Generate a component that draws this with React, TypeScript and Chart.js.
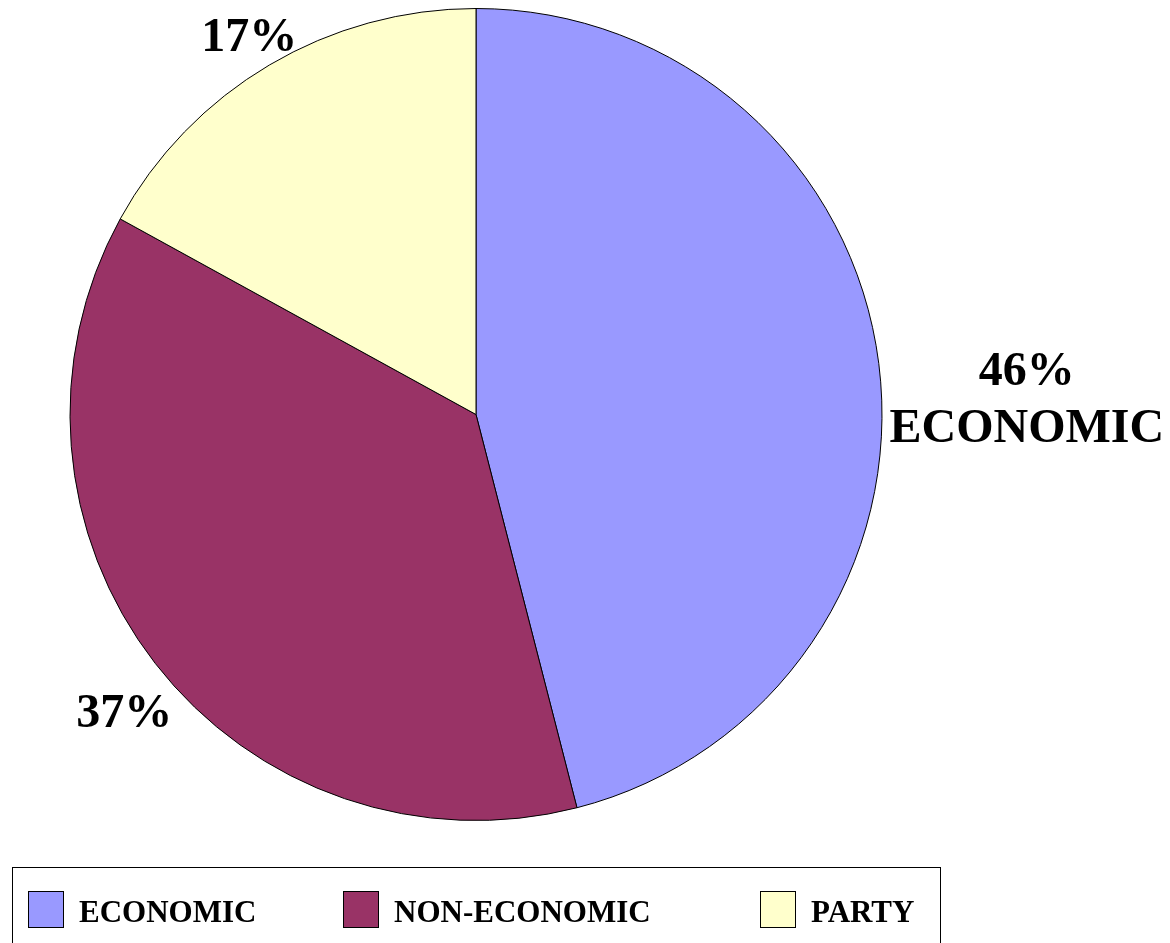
import React, { useEffect, useRef } from "react";
import { Chart, registerables } from "chart.js";

Chart.register(...registerables);

const categories = ["ECONOMIC", "NON-ECONOMIC", "PARTY"];
const values = [46, 37, 17];
const colors = ["#9999FF", "#993366", "#FFFFCC"];
const sliceLabels = ["46%\nECONOMIC", "37%", "17%"];
// offset of each label's first baseline from the slice's outer mid point
const labelOffsets = [
  [148, 21.5],
  [-31, 64],
  [-20, -14],
];
// legend item left positions (layout)
const legendX = [28, 343, 760];

const FONT = '"Liberation Serif", "Times New Roman", serif';

const overlayPlugin = {
  id: "overlay",
  afterDraw(chart: any) {
    const ctx = chart.ctx as CanvasRenderingContext2D;
    const meta = chart.getDatasetMeta(0);
    ctx.save();
    ctx.fillStyle = "#000";
    ctx.font = `bold 48px ${FONT}`;
    ctx.textAlign = "center";
    ctx.textBaseline = "alphabetic";
    meta.data.forEach((arc: any, i: number) => {
      const p = arc.getProps(["x", "y", "startAngle", "endAngle", "outerRadius"], true);
      const mid = (p.startAngle + p.endAngle) / 2;
      const px = p.x + Math.cos(mid) * p.outerRadius;
      const py = p.y + Math.sin(mid) * p.outerRadius;
      const lines = sliceLabels[i].split("\n");
      lines.forEach((ln, j) => {
        ctx.fillText(ln, px + labelOffsets[i][0], py + labelOffsets[i][1] + j * 57);
      });
    });

    // legend box
    const boxX = 12;
    const boxY = 867;
    const boxW = 928;
    const sw = 36;
    const swH = 37;
    const gapT = 15;
    ctx.strokeStyle = "#000";
    ctx.lineWidth = 1;
    ctx.strokeRect(boxX + 0.5, boxY + 0.5, boxW, 120);
    ctx.font = `bold 31px ${FONT}`;
    ctx.textAlign = "left";
    categories.forEach((c, i) => {
      const x = legendX[i];
      ctx.fillStyle = colors[i];
      ctx.fillRect(x, 891, sw, swH);
      ctx.strokeStyle = "#000";
      ctx.strokeRect(x + 0.5, 891.5, sw - 1, swH - 1);
      ctx.fillStyle = "#000";
      ctx.fillText(c, x + sw + gapT, 922);
    });
    ctx.restore();
  },
};

export default function App() {
  const ref = useRef<HTMLCanvasElement>(null);
  useEffect(() => {
    if (!ref.current) return;
    const chart = new Chart(ref.current, {
      type: "pie",
      data: {
        labels: categories,
        datasets: [
          {
            data: values,
            backgroundColor: colors,
            borderColor: "#000",
            borderWidth: 1,
          },
        ],
      },
      options: {
        responsive: false,
        animation: false,
        devicePixelRatio: 1,
        layout: { padding: { left: 69, top: 8, right: 287, bottom: 122 } },
        plugins: {
          legend: { display: false },
          tooltip: { enabled: false },
        },
      },
      plugins: [overlayPlugin],
    });
    return () => chart.destroy();
  }, []);
  return (
    <div style={{ position: "absolute", left: 0, top: 0, width: 1170, height: 943, background: "#fff" }}>
      <canvas ref={ref} width={1170} height={943} style={{ display: "block" }} />
    </div>
  );
}
